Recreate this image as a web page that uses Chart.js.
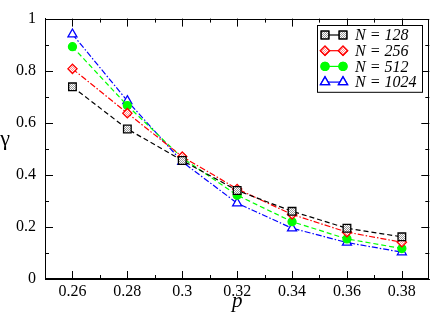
<!DOCTYPE html>
<html>
<head>
    <title>gamma vs p</title>
    <script src="https://cdn.jsdelivr.net/npm/chart.js"></script>
    <style>
        html, body {
            margin: 0;
            padding: 0;
            background-color: #fff;
        }
        #wrap {
            width: 436px;
            height: 314px;
        }
    </style>
</head>
<body>

<div id="wrap">
    <canvas id="gammaChart" width="436" height="314"></canvas>
</div>

<script>
    // data
    const pValues = [0.26, 0.28, 0.30, 0.32, 0.34, 0.36, 0.38];
    const gamma128 = [0.738, 0.576, 0.455, 0.340, 0.260, 0.195, 0.162];
    const gamma256 = [0.807, 0.637, 0.470, 0.346, 0.248, 0.180, 0.141];
    const gamma512 = [0.892, 0.666, 0.465, 0.322, 0.220, 0.154, 0.117];
    const gamma1024 = [0.940, 0.684, 0.450, 0.291, 0.195, 0.140, 0.103];
    const seriesNames = ['N = 128', 'N = 256', 'N = 512', 'N = 1024'];

    // axis ticks
    const xTickValues = [0.26, 0.28, 0.30, 0.32, 0.34, 0.36, 0.38];
    const xTickLabels = ['0.26', '0.28', '0.3', '0.32', '0.34', '0.36', '0.38'];
    const yTickValues = [0, 0.2, 0.4, 0.6, 0.8, 1];
    const yTickLabels = ['0', '0.2', '0.4', '0.6', '0.8', '1'];

    const serif = '"Liberation Serif", serif';

    // small checker pattern used inside the square and diamond markers
    function checker(color) {
        const c = document.createElement('canvas');
        c.width = 2;
        c.height = 2;
        const g = c.getContext('2d');
        g.fillStyle = '#fff';
        g.fillRect(0, 0, 2, 2);
        g.fillStyle = color;
        g.fillRect(0, 0, 1, 1);
        g.fillRect(1, 1, 1, 1);
        return g.createPattern(c, 'repeat');
    }

    function toPoints(ys) {
        return pValues.map((p, i) => ({ x: p, y: ys[i] }));
    }

    const datasets = [
        { label: seriesNames[0], data: toPoints(gamma128), borderColor: '#000', backgroundColor: checker('#999'),
          pointStyle: 'rect', pointRadius: 5.4, borderDash: [5, 3] },
        { label: seriesNames[1], data: toPoints(gamma256), borderColor: '#ff0000', backgroundColor: checker('#ff9090'),
          pointStyle: 'rectRot', pointRadius: 4.6, borderDash: [6, 2, 1.5, 2] },
        { label: seriesNames[2], data: toPoints(gamma512), borderColor: '#00ff00', backgroundColor: '#00ff00',
          pointStyle: 'circle', pointRadius: 4, borderDash: [5, 3] },
        { label: seriesNames[3], data: toPoints(gamma1024), borderColor: '#0000ff', backgroundColor: '#fff',
          pointStyle: 'triangle', pointRadius: 5.2, borderDash: [6, 2, 1.5, 2] }
    ];
    datasets.forEach(d => {
        d.borderWidth = 1.2;
        d.pointBorderWidth = 1.3;
        d.pointBorderColor = d.borderColor;
        d.pointBackgroundColor = d.backgroundColor;
        d.pointHoverRadius = d.pointRadius;
        d.tension = 0;
        d.fill = false;
    });

    // inward major/minor ticks on all four sides, plus top/right frame
    const framePlugin = {
        id: 'frame',
        afterDraw(chart) {
            const ctx = chart.ctx;
            const a = chart.chartArea;
            const xs = chart.scales.x;
            const ys = chart.scales.y;
            ctx.save();
            ctx.strokeStyle = '#000';
            ctx.lineWidth = 1;
            ctx.strokeRect(Math.round(a.left) + 0.5, Math.round(a.top) + 0.5,
                Math.round(a.right - a.left) - 1, Math.round(a.bottom - a.top) - 1);

            function minors(majors, lo, hi) {
                const out = [];
                const h = (majors[1] - majors[0]) / 2;
                for (let i = 0; i < majors.length - 1; i++) out.push((majors[i] + majors[i + 1]) / 2);
                if (majors[0] - h > lo + 1e-9) out.unshift(majors[0] - h);
                if (majors[majors.length - 1] + h < hi - 1e-9) out.push(majors[majors.length - 1] + h);
                return out;
            }

            ctx.beginPath();
            xTickValues.forEach(v => {
                const px = Math.round(xs.getPixelForValue(v)) + 0.5;
                ctx.moveTo(px, a.bottom); ctx.lineTo(px, a.bottom - 8);
                ctx.moveTo(px, a.top); ctx.lineTo(px, a.top + 8);
            });
            minors(xTickValues, xs.min, xs.max).forEach(v => {
                const px = Math.round(xs.getPixelForValue(v)) + 0.5;
                ctx.moveTo(px, a.bottom); ctx.lineTo(px, a.bottom - 4);
                ctx.moveTo(px, a.top); ctx.lineTo(px, a.top + 4);
            });
            yTickValues.forEach(v => {
                const py = Math.round(ys.getPixelForValue(v)) + 0.5;
                ctx.moveTo(a.left, py); ctx.lineTo(a.left + 8, py);
                ctx.moveTo(a.right, py); ctx.lineTo(a.right - 8, py);
            });
            minors(yTickValues, ys.min, ys.max).forEach(v => {
                const py = Math.round(ys.getPixelForValue(v)) + 0.5;
                ctx.moveTo(a.left, py); ctx.lineTo(a.left + 4, py);
                ctx.moveTo(a.right, py); ctx.lineTo(a.right - 4, py);
            });
            ctx.stroke();

            // y axis title, kept upright
            ctx.fillStyle = '#000';
            ctx.font = '22px ' + serif;
            ctx.textAlign = 'center';
            ctx.textBaseline = 'middle';
            ctx.fillText('\u03b3', 5, 139);
            ctx.restore();
        }
    };

    // legend box inside the plot, top right
    function drawMarker(ctx, ds, x, y) {
        Chart.helpers.drawPoint(ctx, {
            pointStyle: ds.pointStyle,
            radius: ds.pointRadius,
            rotation: 0,
            borderWidth: ds.pointBorderWidth
        }, x, y);
        ctx.fill();
        ctx.stroke();
    }

    const legendPlugin = {
        id: 'boxLegend',
        afterDraw(chart) {
            const ctx = chart.ctx;
            const left = 317, top = 25, w = 105, rowH = 15.7;
            ctx.save();
            ctx.fillStyle = '#fff';
            ctx.fillRect(left, top, w, rowH * 4 + 4);
            ctx.strokeStyle = '#000';
            ctx.lineWidth = 1;
            ctx.strokeRect(left + 0.5, top + 0.5, w, rowH * 4 + 4);
            chart.data.datasets.forEach((ds, i) => {
                const y = top + 10 + i * rowH;
                ctx.strokeStyle = ds.borderColor;
                ctx.lineWidth = ds.borderWidth;
                ctx.setLineDash([]);
                ctx.beginPath();
                ctx.moveTo(325, y);
                ctx.lineTo(343, y);
                ctx.stroke();
                ctx.fillStyle = ds.pointBackgroundColor;
                ctx.lineWidth = ds.pointBorderWidth;
                drawMarker(ctx, ds, 325, y);
                drawMarker(ctx, ds, 343, y);
                ctx.fillStyle = '#000';
                ctx.font = 'italic 16px ' + serif;
                ctx.textAlign = 'left';
                ctx.textBaseline = 'middle';
                ctx.fillText(ds.label, 355, y + 1);
            });
            ctx.restore();
        }
    };

    const ctx = document.getElementById('gammaChart').getContext('2d');
    const gammaChart = new Chart(ctx, {
        type: 'line',
        data: { datasets: datasets },
        options: {
            responsive: false,
            animation: false,
            devicePixelRatio: 1,
            layout: { padding: { left: 0, right: 2, top: 6, bottom: 0 } },
            plugins: {
                legend: { display: false },
                tooltip: { enabled: false }
            },
            scales: {
                x: {
                    type: 'linear',
                    min: 0.25,
                    max: 0.39,
                    afterBuildTicks: s => { s.ticks = xTickValues.map(v => ({ value: v })); },
                    afterFit: s => { s.height = 35; },
                    ticks: {
                        callback: (v, i) => xTickLabels[i],
                        font: { family: serif, size: 16 },
                        color: '#000',
                        padding: 3,
                        maxRotation: 0,
                        autoSkip: false
                    },
                    grid: { display: false, drawTicks: false },
                    border: { display: true, color: '#000', width: 1 },
                    title: {
                        display: true,
                        text: 'p',
                        color: '#000',
                        font: { family: serif, size: 21, style: 'italic' },
                        padding: { top: 0, bottom: 0 }
                    }
                },
                y: {
                    min: 0,
                    max: 1,
                    afterBuildTicks: s => { s.ticks = yTickValues.map(v => ({ value: v })); },
                    afterFit: s => { s.width = 45; },
                    ticks: {
                        callback: (v, i) => yTickLabels[i],
                        font: { family: serif, size: 16 },
                        color: '#000',
                        padding: 9
                    },
                    grid: { display: false, drawTicks: false },
                    border: { display: true, color: '#000', width: 1 }
                }
            }
        },
        plugins: [framePlugin, legendPlugin]
    });
</script>

</body>
</html>
